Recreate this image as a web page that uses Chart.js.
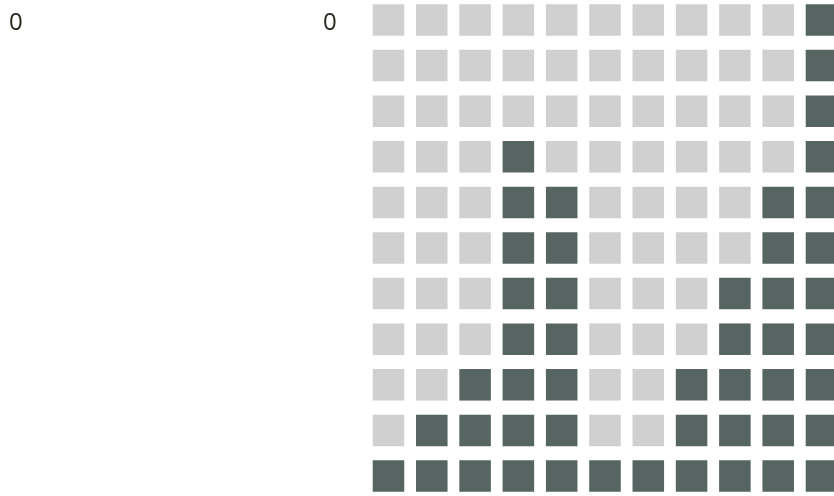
<!DOCTYPE html>
<html>
<head>
<meta charset="utf-8">
<title>Waffle columns</title>
<script src="https://cdn.jsdelivr.net/npm/chart.js@4.4.1/dist/chart.umd.min.js"></script>
<style>
  html, body { margin: 0; padding: 0; background: #ffffff; }
  #wrap { position: relative; width: 834px; height: 496px; overflow: hidden; }
  #wafflePlot { position: absolute; left: 0; top: 0; }
  .count-label {
    position: absolute;
    font-family: "Open Sans", sans-serif;
    font-size: 24px;
    line-height: 24px;
    color: #26261e;
  }
</style>
</head>
<body>
<div id="wrap">
  <canvas id="wafflePlot" width="834" height="496"></canvas>
  <div class="count-label" id="leftLabel" style="left:9px; top:9px;"></div>
  <div class="count-label" id="rightLabel" style="left:323px; top:9px;"></div>
</div>
<script>
// data
const columns = ['1', '2', '3', '4', '5', '6', '7', '8', '9', '10', '11'];
const filledCounts = [1, 2, 3, 8, 7, 1, 1, 3, 5, 7, 11];
const rowsPerColumn = 11;
const panelLabels = ['0', '0'];

const darkColor = '#566462';
const lightColor = '#d0d0d0';

document.getElementById('leftLabel').textContent = panelLabels[0];
document.getElementById('rightLabel').textContent = panelLabels[1];

// one cell per (column, row); filled from the bottom up
const filledCells = [];
const emptyCells = [];
columns.forEach(function (col, i) {
  for (let r = 0; r < rowsPerColumn; r++) {
    const cell = { x: i, y: r };
    if (r < filledCounts[i]) filledCells.push(cell);
    else emptyCells.push(cell);
  }
});

const ctx = document.getElementById('wafflePlot').getContext('2d');
new Chart(ctx, {
  type: 'scatter',
  data: {
    datasets: [
      {
        label: 'empty',
        data: emptyCells,
        pointStyle: 'rect',
        pointRadius: 22.3,
        pointHoverRadius: 22.3,
        backgroundColor: lightColor,
        borderWidth: 0
      },
      {
        label: 'filled',
        data: filledCells,
        pointStyle: 'rect',
        pointRadius: 22.3,
        pointHoverRadius: 22.3,
        backgroundColor: darkColor,
        borderWidth: 0
      }
    ]
  },
  options: {
    responsive: false,
    animation: false,
    events: [],
    layout: { padding: 0, autoPadding: false },
    plugins: {
      legend: { display: false },
      tooltip: { enabled: false }
    },
    scales: {
      x: { type: 'linear', display: false, min: -8.972, max: 10.289 },
      y: { type: 'linear', display: false, min: -0.4386, max: 10.4386 }
    }
  }
});
</script>
</body>
</html>
